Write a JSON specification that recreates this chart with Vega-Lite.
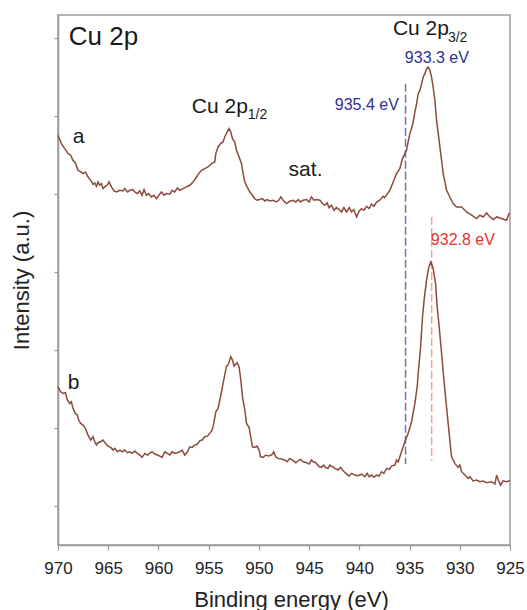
{
  "$schema": "https://vega.github.io/schema/vega-lite/v6.json",
  "width": 452,
  "height": 530,
  "autosize": {"type": "none"},
  "padding": {"left": 58, "top": 15, "right": 17, "bottom": 65},
  "background": "white",
  "config": {
    "font": "Liberation Sans",
    "view": {"stroke": "#9a9a9a", "strokeWidth": 1.5}
  },
  "datasets": {
    "spec": [
      {"s":"a","e":970.00,"i":5.756},{"s":"a","e":969.66,"i":5.650},{"s":"a","e":969.33,"i":5.586},{"s":"a","e":969.00,"i":5.522},{"s":"a","e":968.74,"i":5.500},{"s":"a","e":968.51,"i":5.436},{"s":"a","e":968.27,"i":5.401},{"s":"a","e":968.01,"i":5.308},{"s":"a","e":967.74,"i":5.286},{"s":"a","e":967.51,"i":5.265},{"s":"a","e":967.27,"i":5.286},{"s":"a","e":967.01,"i":5.222},{"s":"a","e":966.74,"i":5.179},{"s":"a","e":966.51,"i":5.128},{"s":"a","e":966.34,"i":5.145},{"s":"a","e":966.18,"i":5.103},{"s":"a","e":966.02,"i":5.158},{"s":"a","e":965.85,"i":5.115},{"s":"a","e":965.68,"i":5.137},{"s":"a","e":965.52,"i":5.073},{"s":"a","e":965.35,"i":5.094},{"s":"a","e":965.12,"i":5.115},{"s":"a","e":964.92,"i":5.158},{"s":"a","e":964.68,"i":5.094},{"s":"a","e":964.42,"i":5.043},{"s":"a","e":964.18,"i":5.030},{"s":"a","e":963.85,"i":5.051},{"s":"a","e":963.53,"i":5.043},{"s":"a","e":963.36,"i":5.073},{"s":"a","e":963.09,"i":5.030},{"s":"a","e":962.86,"i":5.051},{"s":"a","e":962.53,"i":5.060},{"s":"a","e":962.36,"i":5.030},{"s":"a","e":962.09,"i":5.009},{"s":"a","e":961.86,"i":5.043},{"s":"a","e":961.63,"i":4.987},{"s":"a","e":961.43,"i":5.060},{"s":"a","e":961.20,"i":4.987},{"s":"a","e":960.97,"i":5.009},{"s":"a","e":960.70,"i":4.966},{"s":"a","e":960.44,"i":4.987},{"s":"a","e":960.20,"i":4.944},{"s":"a","e":959.97,"i":4.987},{"s":"a","e":959.70,"i":5.030},{"s":"a","e":959.44,"i":4.987},{"s":"a","e":959.20,"i":5.009},{"s":"a","e":958.87,"i":5.000},{"s":"a","e":958.64,"i":5.051},{"s":"a","e":958.38,"i":5.030},{"s":"a","e":958.11,"i":5.081},{"s":"a","e":957.88,"i":5.051},{"s":"a","e":957.55,"i":5.073},{"s":"a","e":957.22,"i":5.094},{"s":"a","e":956.88,"i":5.115},{"s":"a","e":956.55,"i":5.158},{"s":"a","e":956.21,"i":5.222},{"s":"a","e":955.99,"i":5.265},{"s":"a","e":955.72,"i":5.308},{"s":"a","e":955.39,"i":5.329},{"s":"a","e":955.06,"i":5.350},{"s":"a","e":954.72,"i":5.393},{"s":"a","e":954.39,"i":5.415},
      {"s":"a","e":954.29,"i":5.522},{"s":"a","e":954.06,"i":5.607},{"s":"a","e":953.82,"i":5.650},{"s":"a","e":953.57,"i":5.671},{"s":"a","e":953.40,"i":5.735},{"s":"a","e":953.17,"i":5.799},{"s":"a","e":952.97,"i":5.842},{"s":"a","e":952.80,"i":5.799},{"s":"a","e":952.63,"i":5.714},{"s":"a","e":952.40,"i":5.671},{"s":"a","e":952.23,"i":5.564},{"s":"a","e":951.97,"i":5.479},{"s":"a","e":951.73,"i":5.393},{"s":"a","e":951.57,"i":5.265},{"s":"a","e":951.40,"i":5.158},{"s":"a","e":951.17,"i":5.094},{"s":"a","e":950.91,"i":5.030},{"s":"a","e":950.64,"i":4.987},{"s":"a","e":950.41,"i":4.944},{"s":"a","e":950.18,"i":4.923},{"s":"a","e":949.91,"i":4.932},{"s":"a","e":949.64,"i":4.944},{"s":"a","e":949.41,"i":4.914},{"s":"a","e":949.18,"i":4.932},{"s":"a","e":948.91,"i":4.914},{"s":"a","e":948.58,"i":4.923},{"s":"a","e":948.25,"i":4.901},{"s":"a","e":948.02,"i":4.923},{"s":"a","e":947.82,"i":4.966},{"s":"a","e":947.59,"i":4.923},{"s":"a","e":947.25,"i":4.881},{"s":"a","e":946.92,"i":4.910},{"s":"a","e":946.59,"i":4.923},{"s":"a","e":946.32,"i":4.901},{"s":"a","e":946.09,"i":4.932},{"s":"a","e":945.86,"i":4.901},{"s":"a","e":945.60,"i":4.923},{"s":"a","e":945.26,"i":4.932},{"s":"a","e":945.00,"i":4.901},{"s":"a","e":944.76,"i":4.966},{"s":"a","e":944.53,"i":4.923},{"s":"a","e":944.26,"i":4.932},{"s":"a","e":943.93,"i":4.923},{"s":"a","e":943.67,"i":4.881},{"s":"a","e":943.44,"i":4.859},{"s":"a","e":943.21,"i":4.889},{"s":"a","e":943.01,"i":4.829},{"s":"a","e":942.77,"i":4.859},{"s":"a","e":942.54,"i":4.795},{"s":"a","e":942.27,"i":4.829},{"s":"a","e":942.01,"i":4.804},{"s":"a","e":941.77,"i":4.773},{"s":"a","e":941.54,"i":4.829},{"s":"a","e":941.27,"i":4.773},{"s":"a","e":941.01,"i":4.829},{"s":"a","e":940.78,"i":4.773},{"s":"a","e":940.55,"i":4.804},{"s":"a","e":940.27,"i":4.709},{"s":"a","e":940.01,"i":4.786},{"s":"a","e":939.78,"i":4.816},{"s":"a","e":939.55,"i":4.795},{"s":"a","e":939.27,"i":4.846},{"s":"a","e":939.02,"i":4.816},{"s":"a","e":938.78,"i":4.872},{"s":"a","e":938.55,"i":4.846},{"s":"a","e":938.28,"i":4.901},{"s":"a","e":937.96,"i":4.923},{"s":"a","e":937.63,"i":4.974},{"s":"a","e":937.49,"i":4.957},
      {"s":"a","e":936.96,"i":5.051},{"s":"a","e":936.63,"i":5.158},{"s":"a","e":936.30,"i":5.265},{"s":"a","e":935.97,"i":5.329},{"s":"a","e":935.70,"i":5.458},{"s":"a","e":935.47,"i":5.522},{"s":"a","e":935.30,"i":5.564},{"s":"a","e":935.14,"i":5.671},{"s":"a","e":934.97,"i":5.778},{"s":"a","e":934.80,"i":5.842},{"s":"a","e":934.64,"i":5.927},{"s":"a","e":934.47,"i":6.055},{"s":"a","e":934.30,"i":6.163},{"s":"a","e":934.14,"i":6.291},{"s":"a","e":933.97,"i":6.333},{"s":"a","e":933.80,"i":6.419},{"s":"a","e":933.64,"i":6.504},{"s":"a","e":933.48,"i":6.547},{"s":"a","e":933.31,"i":6.611},{"s":"a","e":933.15,"i":6.632},{"s":"a","e":932.98,"i":6.590},{"s":"a","e":932.81,"i":6.504},{"s":"a","e":932.65,"i":6.376},{"s":"a","e":932.48,"i":6.205},{"s":"a","e":932.31,"i":5.949},{"s":"a","e":931.98,"i":5.607},{"s":"a","e":931.65,"i":5.265},{"s":"a","e":931.31,"i":5.051},{"s":"a","e":930.99,"i":4.965},{"s":"a","e":930.66,"i":4.881},{"s":"a","e":930.32,"i":4.837},{"s":"a","e":929.82,"i":4.837},{"s":"a","e":929.32,"i":4.773},{"s":"a","e":928.82,"i":4.731},{"s":"a","e":928.33,"i":4.688},{"s":"a","e":928.00,"i":4.731},{"s":"a","e":927.67,"i":4.709},{"s":"a","e":927.33,"i":4.760},{"s":"a","e":927.00,"i":4.709},{"s":"a","e":926.67,"i":4.676},{"s":"a","e":926.33,"i":4.709},{"s":"a","e":925.84,"i":4.688},{"s":"a","e":925.34,"i":4.667},{"s":"a","e":925.07,"i":4.760},
      {"s":"b","e":970.00,"i":2.530},{"s":"b","e":969.73,"i":2.466},{"s":"b","e":969.50,"i":2.445},{"s":"b","e":969.26,"i":2.453},{"s":"b","e":969.06,"i":2.359},{"s":"b","e":968.83,"i":2.316},{"s":"b","e":968.67,"i":2.338},{"s":"b","e":968.51,"i":2.253},{"s":"b","e":968.27,"i":2.188},{"s":"b","e":968.07,"i":2.167},{"s":"b","e":967.94,"i":2.103},{"s":"b","e":967.74,"i":2.060},{"s":"b","e":967.51,"i":2.038},{"s":"b","e":967.27,"i":1.996},{"s":"b","e":967.01,"i":1.910},{"s":"b","e":966.74,"i":1.846},{"s":"b","e":966.51,"i":1.889},{"s":"b","e":966.34,"i":1.825},{"s":"b","e":966.18,"i":1.782},{"s":"b","e":966.02,"i":1.812},{"s":"b","e":965.75,"i":1.825},{"s":"b","e":965.52,"i":1.846},{"s":"b","e":965.28,"i":1.804},{"s":"b","e":965.02,"i":1.769},{"s":"b","e":964.75,"i":1.752},{"s":"b","e":964.52,"i":1.718},{"s":"b","e":964.35,"i":1.740},{"s":"b","e":964.08,"i":1.696},{"s":"b","e":963.85,"i":1.718},{"s":"b","e":963.59,"i":1.696},{"s":"b","e":963.36,"i":1.718},{"s":"b","e":963.09,"i":1.684},{"s":"b","e":962.86,"i":1.696},{"s":"b","e":962.63,"i":1.675},{"s":"b","e":962.36,"i":1.705},{"s":"b","e":962.09,"i":1.675},{"s":"b","e":961.86,"i":1.654},{"s":"b","e":961.63,"i":1.624},{"s":"b","e":961.36,"i":1.675},{"s":"b","e":961.10,"i":1.654},{"s":"b","e":960.87,"i":1.675},{"s":"b","e":960.64,"i":1.696},{"s":"b","e":960.37,"i":1.667},{"s":"b","e":960.10,"i":1.654},{"s":"b","e":959.87,"i":1.641},{"s":"b","e":959.64,"i":1.624},{"s":"b","e":959.37,"i":1.696},{"s":"b","e":959.10,"i":1.675},{"s":"b","e":958.87,"i":1.654},{"s":"b","e":958.64,"i":1.696},{"s":"b","e":958.38,"i":1.675},{"s":"b","e":958.11,"i":1.684},{"s":"b","e":957.88,"i":1.696},{"s":"b","e":957.65,"i":1.718},{"s":"b","e":957.38,"i":1.654},{"s":"b","e":957.11,"i":1.696},{"s":"b","e":956.88,"i":1.760},{"s":"b","e":956.65,"i":1.752},{"s":"b","e":956.38,"i":1.782},{"s":"b","e":956.12,"i":1.795},{"s":"b","e":955.89,"i":1.837},{"s":"b","e":955.66,"i":1.846},{"s":"b","e":955.39,"i":1.889},{"s":"b","e":955.12,"i":1.897},{"s":"b","e":954.89,"i":1.932},{"s":"b","e":954.66,"i":1.974},
      {"s":"b","e":954.49,"i":2.060},{"s":"b","e":954.29,"i":2.209},{"s":"b","e":954.06,"i":2.252},{"s":"b","e":953.89,"i":2.359},{"s":"b","e":953.72,"i":2.466},{"s":"b","e":953.57,"i":2.573},{"s":"b","e":953.40,"i":2.679},{"s":"b","e":953.23,"i":2.795},{"s":"b","e":953.07,"i":2.808},{"s":"b","e":952.90,"i":2.872},{"s":"b","e":952.80,"i":2.915},{"s":"b","e":952.63,"i":2.872},{"s":"b","e":952.47,"i":2.795},{"s":"b","e":952.30,"i":2.821},{"s":"b","e":952.17,"i":2.838},{"s":"b","e":951.97,"i":2.786},{"s":"b","e":951.80,"i":2.615},{"s":"b","e":951.63,"i":2.401},{"s":"b","e":951.40,"i":2.231},{"s":"b","e":951.23,"i":2.060},{"s":"b","e":950.98,"i":2.009},{"s":"b","e":950.84,"i":1.910},{"s":"b","e":950.64,"i":1.760},{"s":"b","e":950.41,"i":1.752},{"s":"b","e":950.18,"i":1.769},{"s":"b","e":949.98,"i":1.718},{"s":"b","e":949.84,"i":1.632},{"s":"b","e":949.58,"i":1.624},{"s":"b","e":949.31,"i":1.654},{"s":"b","e":949.08,"i":1.641},{"s":"b","e":948.74,"i":1.654},{"s":"b","e":948.52,"i":1.696},{"s":"b","e":948.32,"i":1.632},{"s":"b","e":948.09,"i":1.611},{"s":"b","e":947.75,"i":1.603},{"s":"b","e":947.42,"i":1.590},{"s":"b","e":947.19,"i":1.568},{"s":"b","e":946.92,"i":1.611},{"s":"b","e":946.65,"i":1.590},{"s":"b","e":946.32,"i":1.556},{"s":"b","e":946.09,"i":1.581},{"s":"b","e":945.86,"i":1.598},{"s":"b","e":945.60,"i":1.568},{"s":"b","e":945.26,"i":1.556},{"s":"b","e":945.00,"i":1.538},{"s":"b","e":944.76,"i":1.590},{"s":"b","e":944.60,"i":1.568},{"s":"b","e":944.33,"i":1.556},{"s":"b","e":944.00,"i":1.504},{"s":"b","e":943.77,"i":1.496},{"s":"b","e":943.54,"i":1.526},{"s":"b","e":943.34,"i":1.491},{"s":"b","e":943.11,"i":1.483},{"s":"b","e":942.94,"i":1.526},{"s":"b","e":942.67,"i":1.504},{"s":"b","e":942.44,"i":1.483},{"s":"b","e":942.11,"i":1.462},{"s":"b","e":941.87,"i":1.496},{"s":"b","e":941.61,"i":1.453},{"s":"b","e":941.27,"i":1.410},{"s":"b","e":941.01,"i":1.385},{"s":"b","e":940.78,"i":1.419},{"s":"b","e":940.45,"i":1.397},{"s":"b","e":940.12,"i":1.389},{"s":"b","e":939.78,"i":1.410},{"s":"b","e":939.45,"i":1.376},{"s":"b","e":939.22,"i":1.419},{"s":"b","e":939.02,"i":1.376},{"s":"b","e":938.78,"i":1.397},{"s":"b","e":938.55,"i":1.368},{"s":"b","e":938.28,"i":1.397},{"s":"b","e":938.03,"i":1.385},{"s":"b","e":937.79,"i":1.440},{"s":"b","e":937.56,"i":1.419},
      {"s":"b","e":937.29,"i":1.483},{"s":"b","e":937.03,"i":1.470},{"s":"b","e":936.79,"i":1.513},{"s":"b","e":936.46,"i":1.526},{"s":"b","e":936.29,"i":1.590},{"s":"b","e":936.13,"i":1.568},{"s":"b","e":935.80,"i":1.696},{"s":"b","e":935.47,"i":1.824},{"s":"b","e":935.14,"i":1.932},{"s":"b","e":934.80,"i":2.081},{"s":"b","e":934.47,"i":2.317},{"s":"b","e":934.24,"i":2.529},
      {"s":"b","e":934.14,"i":2.701},{"s":"b","e":933.90,"i":3.042},{"s":"b","e":933.71,"i":3.427},{"s":"b","e":933.55,"i":3.641},{"s":"b","e":933.31,"i":3.897},{"s":"b","e":933.08,"i":4.068},{"s":"b","e":932.88,"i":4.132},{"s":"b","e":932.65,"i":4.047},{"s":"b","e":932.41,"i":3.855},{"s":"b","e":932.25,"i":3.555},{"s":"b","e":932.05,"i":3.299},{"s":"b","e":931.81,"i":2.958},{"s":"b","e":931.58,"i":2.615},{"s":"b","e":931.32,"i":2.273},{"s":"b","e":931.09,"i":1.974},{"s":"b","e":930.89,"i":1.718},
      {"s":"b","e":930.82,"i":1.632},{"s":"b","e":930.49,"i":1.547},{"s":"b","e":930.16,"i":1.496},{"s":"b","e":929.99,"i":1.526},{"s":"b","e":929.82,"i":1.440},{"s":"b","e":929.49,"i":1.397},{"s":"b","e":929.16,"i":1.355},{"s":"b","e":928.99,"i":1.376},{"s":"b","e":928.67,"i":1.321},{"s":"b","e":928.33,"i":1.333},{"s":"b","e":928.00,"i":1.312},{"s":"b","e":927.67,"i":1.321},{"s":"b","e":927.33,"i":1.299},{"s":"b","e":926.83,"i":1.312},{"s":"b","e":926.50,"i":1.282},{"s":"b","e":926.33,"i":1.397},{"s":"b","e":926.17,"i":1.333},{"s":"b","e":925.94,"i":1.269},{"s":"b","e":925.68,"i":1.324},{"s":"b","e":925.34,"i":1.312},{"s":"b","e":925.01,"i":1.324}
    ],
    "marks": [
      {"k":"B","e":935.4,"i":6.419,"i2":1.538},
      {"k":"R","e":932.8,"i":4.709,"i2":1.58}
    ],
    "ann": [
      {"k":"L","t":"Cu 2p","e":968.93,"i":6.910},
      {"k":"m","t":"a","e":968.54,"i":5.654},
      {"k":"m","t":"b","e":969.03,"i":2.5},
      {"k":"m","t":"Cu 2p","e":956.68,"i":6.038},
      {"k":"m","t":"Cu 2p","e":936.66,"i":7.038},
      {"k":"m","t":"sat.","e":947.04,"i":5.231},
      {"k":"s","t":"1/2","e":951.11,"i":5.962},
      {"k":"s","t":"3/2","e":931.18,"i":6.949},
      {"k":"B","t":"933.3 eV","e":935.47,"i":6.679},
      {"k":"B","t":"935.4 eV","e":942.44,"i":6.077},
      {"k":"R","t":"932.8 eV","e":932.88,"i":4.346}
    ]
  },
  "encoding": {
    "x": {
      "field": "e", "type": "quantitative",
      "scale": {"domain": [970, 925], "nice": false, "zero": false},
      "axis": {
        "values": [970, 965, 960, 955, 950, 945, 940, 935, 930, 925],
        "format": "d", "title": "Binding energy (eV)", "grid": false,
        "labelFontSize": 17, "labelColor": "#222", "labelPadding": 10, "labelFlush": false,
        "titleFontSize": 22, "titleFontWeight": "normal", "titleColor": "#222", "titlePadding": 13, "titleX": 233,
        "tickSize": 5, "tickColor": "#9a9a9a", "tickWidth": 1.2,
        "domainColor": "#9a9a9a", "domainWidth": 1.5
      }
    },
    "y": {
      "field": "i", "type": "quantitative",
      "scale": {"domain": [0.5, 7.3], "nice": false, "zero": false},
      "axis": {
        "values": [1, 2, 3, 4, 5, 6, 7], "labels": false, "grid": false,
        "title": "Intensity (a.u.)", "titleFontSize": 22, "titleFontWeight": "normal", "titleColor": "#222", "titlePadding": 20,
        "tickSize": 4, "tickColor": "#9a9a9a", "tickWidth": 1.2,
        "domainColor": "#9a9a9a", "domainWidth": 1.5
      }
    }
  },
  "layer": [
    {
      "data": {"name": "marks"},
      "transform": [{"filter": "datum.k == 'B'"}],
      "mark": {"type": "rule", "color": "#7272b6", "strokeWidth": 1.5, "strokeDash": [8, 3]},
      "encoding": {"y2": {"field": "i2"}}
    },
    {
      "data": {"name": "marks"},
      "transform": [{"filter": "datum.k == 'R'"}],
      "mark": {"type": "rule", "color": "#f3a596", "strokeWidth": 1.5, "strokeDash": [8, 3]},
      "encoding": {"y2": {"field": "i2"}}
    },
    {
      "data": {"name": "spec"},
      "mark": {"type": "line", "color": "#8b4b3c", "strokeWidth": 1.5},
      "encoding": {"detail": {"field": "s"}}
    },
    {
      "data": {"name": "ann"},
      "transform": [{"filter": "datum.k == 'L'"}],
      "mark": {"type": "text", "align": "left", "baseline": "alphabetic", "fontSize": 26, "color": "#1a1a1a"},
      "encoding": {"text": {"field": "t"}}
    },
    {
      "data": {"name": "ann"},
      "transform": [{"filter": "datum.k == 'm'"}],
      "mark": {"type": "text", "align": "left", "baseline": "alphabetic", "fontSize": 21, "color": "#1a1a1a"},
      "encoding": {"text": {"field": "t"}}
    },
    {
      "data": {"name": "ann"},
      "transform": [{"filter": "datum.k == 's'"}],
      "mark": {"type": "text", "align": "left", "baseline": "alphabetic", "fontSize": 14, "color": "#1a1a1a"},
      "encoding": {"text": {"field": "t"}}
    },
    {
      "data": {"name": "ann"},
      "transform": [{"filter": "datum.k == 'B'"}],
      "mark": {"type": "text", "align": "left", "baseline": "alphabetic", "fontSize": 16, "color": "#2e3192"},
      "encoding": {"text": {"field": "t"}}
    },
    {
      "data": {"name": "ann"},
      "transform": [{"filter": "datum.k == 'R'"}],
      "mark": {"type": "text", "align": "left", "baseline": "alphabetic", "fontSize": 16, "color": "#e6332a"},
      "encoding": {"text": {"field": "t"}}
    }
  ]
}
